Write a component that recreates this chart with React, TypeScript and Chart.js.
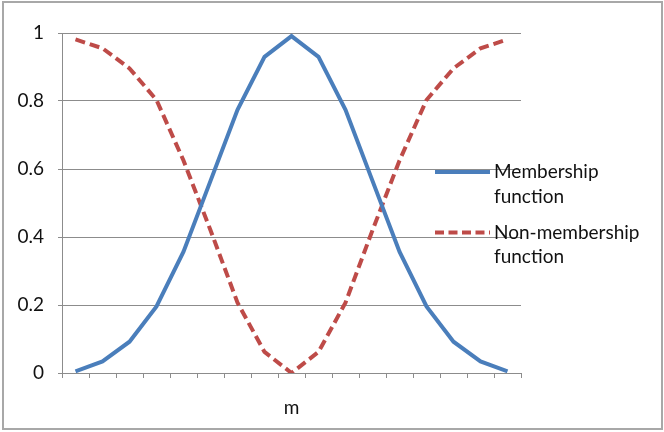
import React, { useEffect, useRef } from "react";
import { Chart, registerables } from "chart.js";

Chart.register(...registerables);

const categories = ["1","2","3","4","5","6","7","8","9","10","11","12","13","14","15","16","17"];
const membership = [0.005, 0.034, 0.092, 0.196, 0.357, 0.565, 0.774, 0.930, 0.991, 0.930, 0.774, 0.565, 0.357, 0.196, 0.092, 0.034, 0.005];
const nonMembership = [0.981, 0.955, 0.896, 0.803, 0.625, 0.42, 0.207, 0.062, 0.0, 0.062, 0.207, 0.42, 0.625, 0.803, 0.896, 0.955, 0.981];
const yTicks = [0, 0.2, 0.4, 0.6, 0.8, 1];
const seriesNames = [["Membership", "function"], ["Non-membership", "function"]];
const axisTitle = "m";

const BLUE = "#4A7EBB";
const RED = "#BE4B48";
const GRID = "#8c8c8c";
const FONT = "Lato";

export default function App() {
  const ref = useRef<HTMLCanvasElement | null>(null);
  useEffect(() => {
    if (!ref.current) return;
    const framePlugin = {
      id: "frame",
      beforeDraw(chart: any) {
        const ctx = chart.ctx;
        ctx.save();
        ctx.fillStyle = "#ffffff";
        ctx.fillRect(0, 0, chart.width, chart.height);
        ctx.strokeStyle = "#a8a8a8";
        ctx.lineWidth = 2;
        ctx.strokeRect(3, 2, chart.width - 5, chart.height - 5);
        ctx.restore();
      },
    };
    const legendPlugin = {
      id: "customLegend",
      afterDraw(chart: any) {
        const ctx = chart.ctx;
        const x0 = chart.chartArea.right - 86;
        const x1 = x0 + 55;
        const tx = x1 + 4;
        const rows = [
          { y: 172, color: BLUE, dash: [] as number[] },
          { y: 232.5, color: RED, dash: [9, 4.5] },
        ];
        ctx.save();
        rows.forEach((r, i) => {
          ctx.beginPath();
          ctx.strokeStyle = r.color;
          ctx.lineWidth = 4;
          ctx.setLineDash(r.dash);
          ctx.moveTo(x0, r.y);
          ctx.lineTo(x1, r.y);
          ctx.stroke();
          ctx.setLineDash([]);
          ctx.fillStyle = "#111";
          ctx.font = `19px ${FONT}`;
          ctx.textBaseline = "middle";
          ctx.textAlign = "left";
          seriesNames[i].forEach((t, j) => ctx.fillText(t, tx, r.y + j * 24.5));
        });
        ctx.restore();
      },
    };
    const chart = new Chart(ref.current, {
      type: "line",
      data: {
        labels: categories,
        datasets: [
          {
            label: seriesNames[0].join(" "),
            data: membership,
            borderColor: BLUE,
            backgroundColor: BLUE,
            borderWidth: 4,
            pointRadius: 0,
            tension: 0,
          },
          {
            label: seriesNames[1].join(" "),
            data: nonMembership,
            borderColor: RED,
            backgroundColor: RED,
            borderWidth: 4,
            borderDash: [10, 5],
            pointRadius: 0,
            tension: 0,
          },
        ],
      },
      options: {
        animation: false,
        responsive: true,
        maintainAspectRatio: false,
        layout: { padding: { left: 0, right: 143, top: 33, bottom: 0 } },
        plugins: { legend: { display: false }, tooltip: { enabled: false } },
        scales: {
          x: {
            offset: true,
            grid: { display: true, offset: true, drawOnChartArea: false, drawTicks: true, tickLength: 5, color: GRID },
            border: { color: GRID, width: 1 },
            ticks: { display: false },
            title: { display: true, text: axisTitle, color: "#111", font: { family: FONT, size: 19 }, padding: { top: 0, bottom: 12.6 } },
            afterFit(s: any) { s.height = 59; },
          },
          y: {
            min: 0,
            max: 1,
            afterBuildTicks(s: any) { s.ticks = yTicks.map((v) => ({ value: v })); },
            ticks: {
              color: "#111",
              font: { family: FONT, size: 19 },
              padding: 14,
              callback: (v: any) => String(Number(Number(v).toFixed(1))),
            },
            grid: { color: GRID, tickLength: 4, drawTicks: true },
            border: { color: GRID, width: 1 },
            afterFit(s: any) { s.width = 62; },
          },
        },
      },
      plugins: [framePlugin, legendPlugin],
    });
    return () => chart.destroy();
  }, []);
  return (
    <div style={{ position: "fixed", left: 0, top: 0, width: 664, height: 432, background: "#fff" }}>
      <canvas ref={ref} width={664} height={432} />
    </div>
  );
}
